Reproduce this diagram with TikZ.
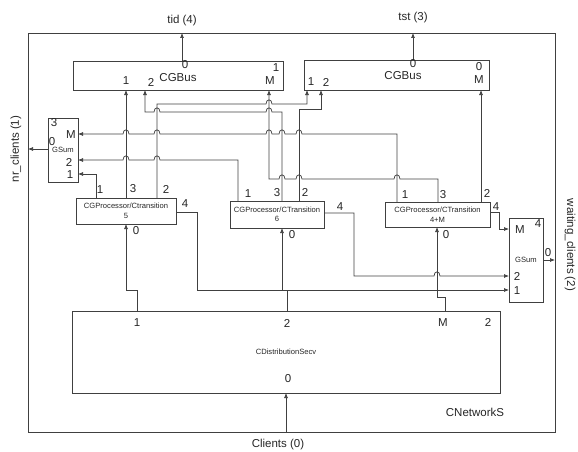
\documentclass[tikz,border=0pt]{standalone}
\usepackage{fontspec}
\setmainfont{Liberation Sans}
\usetikzlibrary{arrows.meta}
\tikzset{
  blk/.style={draw=black!75, line width=0.7pt, inner sep=0pt},
  lbl/.style={font=\fontsize{11.5}{13}\selectfont, text=black!85, inner sep=0pt},
  sml/.style={font=\fontsize{7.6}{9.5}\selectfont, text=black!85, align=center},
  wire/.style={draw=black!75, line width=0.7pt, -{Latex[length=5pt,width=4pt]}},
  rwire/.style={draw=black!75, line width=0.7pt, {Latex[length=5pt,width=4pt]}-},
}
% small bridge where a wire passes over another one
\newcommand\wirehop[2]{-- ({#1-3},#2) .. controls ({#1-3},{#2-5.5}) and ({#1+3},{#2-5.5}) .. ({#1+3},#2)}
\begin{document}
\begin{tikzpicture}[x=1pt,y=-1pt]
  \useasboundingbox (0,0) rectangle (578,452);
  % blocks
  \node[blk, minimum width=527pt, minimum height=399pt] (net) at (291.5,232.5) {};
  \node[blk, minimum width=210pt, minimum height=29pt] (bus1) at (178,75.5) {};
  \node[blk, minimum width=185pt, minimum height=30pt] (bus2) at (396.5,75) {};
  \node[blk, sml, minimum width=30pt, minimum height=64pt] (gsumL) at (63,150) {GSum};
  \node[blk, sml, minimum width=34pt, minimum height=84pt] (gsumR) at (526,260) {GSum};
  \node[blk, sml, minimum width=100pt, minimum height=26pt] (procA) at (126,211) {CGProcessor/Ctransition\\5};
  \node[blk, sml, minimum width=94pt, minimum height=27pt] (procB) at (277,214.5) {CGProcessor/CTransition\\6};
  \node[blk, sml, minimum width=105pt, minimum height=25pt] (procC) at (437.5,214.5) {CGProcessor/CTransition\\4+M};
  \node[blk, sml, minimum width=428pt, minimum height=82pt] (dist) at (286,352) {CDistributionSecv};

  % ports
  \coordinate (b1-0) at (182,61);  \coordinate (b1-1) at (126,90);
  \coordinate (b1-2) at (145,90);  \coordinate (b1-M) at (269,90);
  \coordinate (b2-0) at (413,60);  \coordinate (b2-1) at (307,90);
  \coordinate (b2-2) at (321,90);  \coordinate (b2-M) at (481,90);
  \coordinate (gL-0) at (48,149);  \coordinate (gL-M) at (78,134);
  \coordinate (gL-2) at (78,160);  \coordinate (gL-1) at (78,174);
  \coordinate (gR-0) at (543,260); \coordinate (gR-M) at (509,229);
  \coordinate (gR-2) at (509,276); \coordinate (gR-1) at (509,290);
  \coordinate (a1) at (96,198);  \coordinate (a3) at (126,198);
  \coordinate (a2) at (157,198); \coordinate (a4) at (176,212); \coordinate (a0) at (126,224);
  \coordinate (bp1) at (238,201); \coordinate (bp3) at (282,201);
  \coordinate (bp2) at (299,201); \coordinate (bp4) at (324,213); \coordinate (bp0) at (282,228);
  \coordinate (cp1) at (397,202); \coordinate (cp3) at (438,202);
  \coordinate (cp2) at (481,202); \coordinate (cp4) at (490,212); \coordinate (cp0) at (437,227);
  \coordinate (d1) at (137,311); \coordinate (d2) at (287,311);
  \coordinate (dM) at (445,311); \coordinate (d0) at (286,393);
  \coordinate (topA) at (182,33); \coordinate (topB) at (413,33);
  \coordinate (leftA) at (28,149); \coordinate (rightA) at (555,260);
  \coordinate (botA) at (286,432);

  % wires
  \draw[wire] (b1-0) -- (topA);
  \draw[wire] (b2-0) -- (topB);
  \draw[wire] (gL-0) -- (leftA);
  \draw[wire] (gR-0) -- (rightA);
  \draw[wire] (botA) -- (d0);
  \draw[wire] (a3) -- (b1-1);
  \draw[wire] (a2) -- (157,104) \wirehop{269}{104} -- (307,104) -- (b2-1);
  \draw[rwire] (b1-2) -- (145,112) \wirehop{157}{112} \wirehop{269}{112} -- (282,112) -- (bp3);
  \draw[rwire] (b1-M) -- (269,179) \wirehop{282}{179} \wirehop{299}{179} \wirehop{397}{179} -- (438,179) -- (cp3);
  \draw[wire] (bp2) -- (299,109) -- (321,109) -- (b2-2);
  \draw[wire] (cp2) -- (b2-M);
  \draw[rwire] (gL-M) \wirehop{126}{134} \wirehop{157}{134} \wirehop{269}{134} \wirehop{282}{134} \wirehop{299}{134} -- (397,134) -- (cp1);
  \draw[rwire] (gL-2) \wirehop{126}{160} \wirehop{157}{160} -- (238,160) -- (bp1);
  \draw[rwire] (gL-1) -- (96,174) -- (a1);
  \draw[wire] (a4) -- (197,212) -- (197,290) -- (gR-1);
  \draw[wire] (bp4) -- (354,213) -- (354,276) \wirehop{437}{276} -- (gR-2);
  \draw[wire] (cp4) -- (499,212) -- (499,229) -- (gR-M);
  \draw[wire] (d1) -- (137,290) -- (126,290) -- (a0);
  \draw[wire] (d2) -- (287,290) -- (282,290) -- (bp0);
  \draw[wire] (dM) -- (445,297) -- (437,297) -- (cp0);

  % port numbers
  \node[lbl] (b1n0) at (185,65) {0};
  \node[lbl] (b1nb) at (178,77.5) {CGBus};
  \node[lbl] (b1n1) at (126,81) {1};
  \node[lbl] (b1n2) at (151,82) {2};
  \node[lbl] (b1nt) at (276,68) {1};
  \node[lbl] (b1nM) at (270,81) {M};
  \node[lbl] (b2n0) at (413,64) {0};
  \node[lbl] (b2nb) at (403,76) {CGBus};
  \node[lbl] (b2n1) at (311,82) {1};
  \node[lbl] (b2n2) at (326,82) {2};
  \node[lbl] (b2nt) at (479,67) {0};
  \node[lbl] (b2nM) at (479,80) {M};
  \node[lbl] (gLn3) at (54,123) {3};
  \node[lbl] (gLnM) at (71,135) {M};
  \node[lbl] (gLn0) at (52,142) {0};
  \node[lbl] (gLn2) at (69,162) {2};
  \node[lbl] (gLn1) at (70,175) {1};
  \node[lbl] (gRnM) at (520,230) {M};
  \node[lbl] (gRn4) at (538,224) {4};
  \node[lbl] (gRn0) at (548,253) {0};
  \node[lbl] (gRn2) at (517,276) {2};
  \node[lbl] (gRn1) at (517,291) {1};
  \node[lbl] (an1) at (100,190) {1};
  \node[lbl] (an3) at (133,189) {3};
  \node[lbl] (an2) at (166,189) {2};
  \node[lbl] (an4) at (185,204) {4};
  \node[lbl] (an0) at (136,231) {0};
  \node[lbl] (bn1) at (248,194) {1};
  \node[lbl] (bn3) at (277,193) {3};
  \node[lbl] (bn2) at (305,192) {2};
  \node[lbl] (bn4) at (340,207) {4};
  \node[lbl] (bn0) at (292,235) {0};
  \node[lbl] (cn1) at (405,195) {1};
  \node[lbl] (cn3) at (443,195) {3};
  \node[lbl] (cn2) at (487,193) {2};
  \node[lbl] (cn4) at (496,207) {4};
  \node[lbl] (cn0) at (446,235) {0};
  \node[lbl] (dn1) at (137,323) {1};
  \node[lbl] (dn2) at (287,323) {2};
  \node[lbl] (dnM) at (443,323) {M};
  \node[lbl] (dnt) at (488,322) {2};
  \node[lbl] (dn0) at (288,379) {0};
  \node[lbl] (netname) at (475,412) {CNetworkS};

  % outside
  \node[lbl] (tid) at (182,21) {tid (4)};
  \node[lbl] (tst) at (413,18) {tst (3)};
  \node[lbl, rotate=90] (nrc) at (16,149) {nr\_clients (1)};
  \node[lbl, rotate=-90] (wtc) at (570,245) {waiting\_clients (2)};
  \node[lbl] (cli) at (278,445) {Clients (0)};
\end{tikzpicture}
\end{document}
